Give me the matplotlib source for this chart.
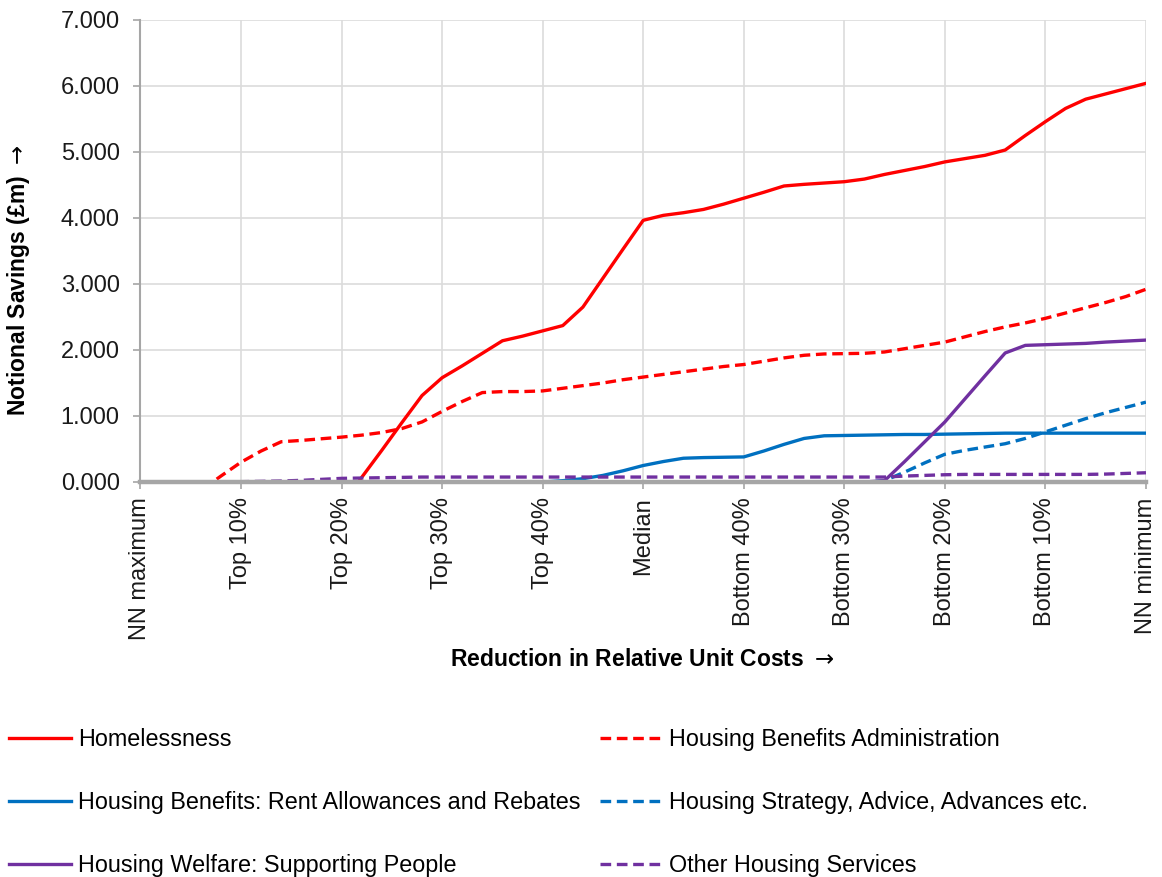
import numpy as np
import matplotlib
matplotlib.use("Agg")
import matplotlib.pyplot as plt

plt.rcParams['font.family'] = ['Liberation Sans', 'DejaVu Sans']

# x labels (every 5th point of 51)
tick_labels = ['NN maximum', 'Top 10%', 'Top 20%', 'Top 30%', 'Top 40%', 'Median',
               'Bottom 40%', 'Bottom 30%', 'Bottom 20%', 'Bottom 10%', 'NN minimum']

homelessness = [0, 0, 0, 0, 0, 0, 0, 0, 0, 0,
                -0.35, 0.07, 0.48, 0.90, 1.31, 1.58, 1.76, 1.95, 2.14, 2.21,
                2.29, 2.37, 2.65, 3.09, 3.53, 3.965, 4.04, 4.08, 4.13, 4.21,
                4.30, 4.39, 4.485, 4.51, 4.53, 4.55, 4.59, 4.66, 4.72, 4.78,
                4.85, 4.90, 4.95, 5.03, 5.25, 5.46, 5.66, 5.80, 5.88, 5.96,
                6.04]
hb_admin = [0, 0, 0, -0.13, 0.09, 0.30, 0.47, 0.61, 0.63, 0.655,
            0.68, 0.71, 0.75, 0.81, 0.91, 1.07, 1.22, 1.355, 1.37, 1.37,
            1.38, 1.42, 1.46, 1.50, 1.55, 1.59, 1.63, 1.67, 1.71, 1.75,
            1.78, 1.83, 1.88, 1.92, 1.94, 1.945, 1.95, 1.97, 2.02, 2.07,
            2.12, 2.20, 2.28, 2.35, 2.41, 2.48, 2.56, 2.64, 2.72, 2.81,
            2.92]
hb_rent = [0, 0, 0, 0, 0, 0, 0, 0, 0, 0,
           0, 0, 0, 0, 0, 0, 0, 0, 0, 0,
           0, 0.02, 0.05, 0.10, 0.17, 0.25, 0.31, 0.36, 0.37, 0.375,
           0.38, 0.47, 0.57, 0.66, 0.70, 0.705, 0.71, 0.715, 0.72, 0.72,
           0.725, 0.73, 0.735, 0.74, 0.74, 0.74, 0.74, 0.74, 0.74, 0.74,
           0.74]
hs_advice = [0, 0, 0, 0, 0, 0, 0, 0, 0, 0,
             0, 0, 0, 0, 0, 0, 0, 0, 0, 0,
             0, 0, 0, 0, 0, 0, 0, 0, 0, 0,
             0, 0, 0, 0, 0, 0, 0, 0.02, 0.15, 0.29,
             0.42, 0.48, 0.53, 0.58, 0.66, 0.76, 0.86, 0.96, 1.05, 1.13,
             1.21]
hw_sp = [0, 0, 0, 0, 0, 0, 0, 0, 0, 0,
         0, 0, 0, 0, 0, 0, 0, 0, 0, 0,
         0, 0, 0, 0, 0, 0, 0, 0, 0, 0,
         0, 0, 0, 0, 0, 0, 0, 0.02, 0.31, 0.61,
         0.91, 1.26, 1.61, 1.955, 2.07, 2.08, 2.09, 2.10, 2.12, 2.135,
         2.15]
other = [0, 0, 0, 0, 0, 0.005, 0.01, 0.015, 0.025, 0.04,
         0.055, 0.06, 0.065, 0.07, 0.075, 0.075, 0.075, 0.075, 0.075, 0.075,
         0.075, 0.075, 0.075, 0.075, 0.075, 0.075, 0.075, 0.075, 0.075, 0.075,
         0.075, 0.075, 0.075, 0.075, 0.075, 0.075, 0.075, 0.075, 0.09, 0.10,
         0.11, 0.115, 0.115, 0.115, 0.115, 0.115, 0.115, 0.115, 0.12, 0.13,
         0.14]

RED = '#FF0000'
BLUE = '#0070C0'
PURPLE = '#7030A0'
GREY = '#A6A6A6'
dash = (0, (3.2, 1.7))

fig = plt.figure(figsize=(11.62, 8.77), dpi=100)
ax = fig.add_axes([0.1209, 0.4504, 0.9862 - 0.1209, 0.9772 - 0.4504])

x = np.arange(len(homelessness))
lw = 2.4
l1, = ax.plot(x, homelessness, color=RED, lw=lw, label='Homelessness')
l2, = ax.plot(x, hb_admin, color=RED, lw=lw, ls=dash, label='Housing Benefits Administration')
l3, = ax.plot(x, hb_rent, color=BLUE, lw=lw, label='Housing Benefits: Rent Allowances and Rebates')
l4, = ax.plot(x, hs_advice, color=BLUE, lw=lw, ls=dash, label='Housing Strategy, Advice, Advances etc.')
l5, = ax.plot(x, hw_sp, color=PURPLE, lw=lw, label='Housing Welfare: Supporting People')
l6, = ax.plot(x, other, color=PURPLE, lw=lw, ls=dash, label='Other Housing Services')

ax.set_xlim(0, 50)
ax.set_ylim(0, 7)
ax.set_xticks(np.arange(0, 51, 5))
ax.set_xticklabels(tick_labels, rotation=90, fontsize=17)
ax.set_yticks(np.arange(0, 8, 1))
ax.set_yticklabels(['%.3f' % v for v in range(8)], fontsize=17)
ax.grid(True, color='#DCDCDC', lw=1.2)
ax.set_axisbelow(True)
for s in ['top', 'right']:
    ax.spines[s].set_visible(False)
ax.spines['left'].set_color(GREY)
ax.spines['left'].set_linewidth(1.5)
ax.spines['bottom'].set_color(GREY)
ax.spines['bottom'].set_linewidth(3.2)
ax.spines['bottom'].set_zorder(3)
ax.tick_params(axis='both', colors=GREY, labelcolor='#1a1a1a', length=5, width=1.2)
ax.tick_params(axis='y', pad=10)
ax.tick_params(axis='x', pad=6)

fig.text(19 / 1162, 1 - 280 / 877, r'Notional Savings (£m) $\rightarrow$', rotation=90,
         ha='center', va='center', fontsize=16.5, fontweight='bold')
fig.text(642 / 1162, 1 - 660 / 877, r'Reduction in Relative Unit Costs $\rightarrow$',
         ha='center', va='center', fontsize=16.5, fontweight='bold')

fig.legend(handles=[l1, l3, l5, l2, l4, l6], ncol=2, loc='upper left',
           bbox_to_anchor=(9 / 1162, 1 - 728 / 877), frameon=False, fontsize=16.8,
           handlelength=2.65, handletextpad=0.3, columnspacing=0.85,
           labelspacing=1.72, borderpad=0, borderaxespad=0)

fig.savefig('out.png', dpi=100)
